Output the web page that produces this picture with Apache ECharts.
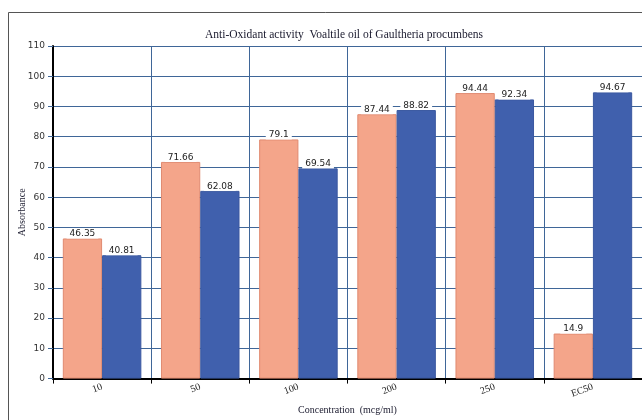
<!DOCTYPE html>
<html>
<head>
<meta charset="utf-8">
<script src="https://cdn.jsdelivr.net/npm/echarts@6/dist/echarts.min.js"></script>
<style>
  html, body { margin: 0; padding: 0; background: #fff; }
  #chart { width: 642px; height: 420px; }
</style>
</head>
<body>
<div id="chart"></div>
<script>
// Concentration groups and measured absorbance for the two series
const categories = ['10', '50', '100', '200', '250', 'EC50'];
const seriesA = [46.35, 71.66, 79.1, 87.44, 94.44, 14.9];
const seriesB = [40.81, 62.08, 69.54, 88.82, 92.34, 94.67];
const yTicks = { min: 0, max: 110, interval: 10 };

const chart = echarts.init(document.getElementById('chart'), null, { renderer: 'canvas' });

const valueLabel = {
  show: true,
  position: 'top',
  distance: 0,
  fontFamily: 'DejaVu Sans',
  fontSize: 9,
  color: '#222',
  backgroundColor: '#fff',
  padding: [1, 3, 0, 3]
};

chart.setOption({
  animation: false,
  backgroundColor: '#fff',
  graphic: [{
    type: 'rect',
    shape: { x: 8.5, y: 12.5, width: 700, height: 500 },
    style: { fill: 'none', stroke: '#555', lineWidth: 1 },
    silent: true,
    z: -1
  }],
  title: {
    text: 'Anti-Oxidant activity  Voaltile oil of Gaultheria procumbens',
    left: 339,
    textAlign: 'center',
    top: 24,
    textStyle: { fontFamily: 'Liberation Serif', fontSize: 11.5, fontWeight: 'normal', color: '#1a1a2e' }
  },
  grid: { left: 53, top: 46, width: 591, height: 337 },
  xAxis: {
    type: 'category',
    data: categories,
    name: 'Concentration  (mcg/ml)',
    nameLocation: 'middle',
    nameGap: 26,
    nameTextStyle: { fontFamily: 'Liberation Serif', fontSize: 10, color: '#1a1a2e' },
    axisLine: { lineStyle: { color: '#000', width: 2 } },
    axisTick: { show: true, length: 5, lineStyle: { color: '#000' } },
    axisLabel: { rotate: 20, margin: 8, fontFamily: 'Liberation Serif', fontSize: 10, color: '#222' },
    splitLine: { show: true, lineStyle: { color: '#3f6698', width: 1 } }
  },
  yAxis: {
    type: 'value',
    min: yTicks.min,
    max: yTicks.max,
    interval: yTicks.interval,
    name: 'Absorbance',
    nameLocation: 'middle',
    nameGap: 26,
    nameRotate: 90,
    nameMoveOverlap: false,
    nameTextStyle: { fontFamily: 'Liberation Serif', fontSize: 10, color: '#1a1a2e' },
    axisLine: { show: true, lineStyle: { color: '#000', width: 2 } },
    axisTick: { show: true, length: 5, lineStyle: { color: '#3f6698' } },
    axisLabel: { margin: 8, fontFamily: 'DejaVu Sans', fontSize: 9, color: '#333' },
    splitLine: { show: true, lineStyle: { color: '#3f6698', width: 1 } }
  },
  series: [
    {
      type: 'bar',
      data: seriesA,
      barGap: '0%',
      barCategoryGap: '20%',
      itemStyle: { color: '#f4a58a', borderColor: '#e08a70', borderWidth: 1 },
      label: valueLabel
    },
    {
      type: 'bar',
      data: seriesB,
      itemStyle: { color: '#4060ad', borderColor: '#3a58a0', borderWidth: 1 },
      label: valueLabel
    }
  ]
});
</script>
</body>
</html>
